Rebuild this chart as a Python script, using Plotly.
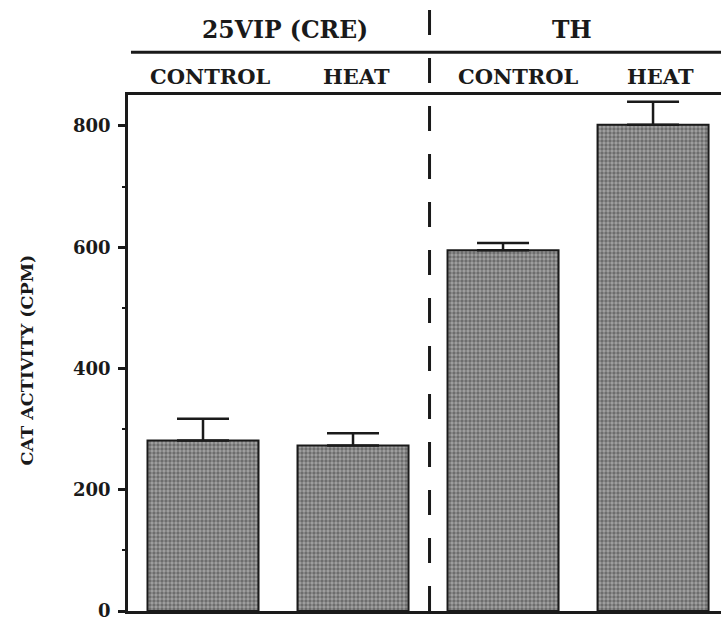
import plotly.graph_objects as go

conditions = ["CONTROL", "HEAT", "CONTROL", "HEAT"]
groups = ["25VIP (CRE)", "TH"]
activity = [281, 273, 595, 802]
error_up = [36, 20, 12, 38]
y_ticks = [0, 200, 400, 600, 800]
y_title = "CAT ACTIVITY (CPM)"

FONT = "DejaVu Serif"
INK = "#1a1a1a"
xs = list(range(len(activity)))

fig = go.Figure()
fig.add_trace(go.Bar(
    x=xs, y=activity, width=0.74,
    marker=dict(
        color="#777777",
        line=dict(color=INK, width=2),
        pattern=dict(shape=".", size=4, solidity=0.55, fgcolor="#383838", bgcolor="#a2a2a2"),
    ),
    error_y=dict(type="data", symmetric=False, array=error_up, arrayminus=[0]*4,
                 color=INK, thickness=2.5, width=26),
    showlegend=False,
))

fig.update_layout(
    width=721, height=621,
    margin=dict(l=128, r=0, t=95, b=8),
    paper_bgcolor="white", plot_bgcolor="white",
    font=dict(family=FONT, color=INK),
    xaxis=dict(range=[-0.5, 3.453], showticklabels=False, ticks="",
               showgrid=False, zeroline=False, showline=True, linecolor=INK,
               linewidth=3, mirror=True),
    yaxis=dict(range=[0, 851], tickvals=y_ticks, ticks="outside", ticklen=7, tickwidth=2.5,
               tickcolor=INK, showgrid=False, zeroline=False, showline=True,
               linecolor=INK, linewidth=2.5, ticklabeloverflow="allow", ticklabelstandoff=4,
               tickfont=dict(family=FONT, size=18, color=INK, weight="bold"),
               minor=dict(tickvals=[100, 300, 500, 700], ticks="outside", ticklen=3,
                          tickwidth=2, tickcolor=INK)),
)

# dashed separator between groups
fig.add_shape(type="line", xref="x", yref="paper", x0=1.51, x1=1.51, y0=0, y1=1.166,
              line=dict(color=INK, width=3, dash="25px,23px"))
# group underline
fig.add_shape(type="line", xref="paper", yref="paper", x0=0.005, x1=1, y0=1.083, y1=1.083,
              line=dict(color=INK, width=3))

group_centers = [0.547, 2.46]
for g, cx in zip(groups, group_centers):
    fig.add_annotation(x=cx, y=1.1255, xref="x", yref="paper", text=g, showarrow=False,
                       font=dict(family=FONT, size=23.5, color=INK, weight="bold"),
                       xanchor="center", yanchor="middle")

cond_pos = [0.053, 1.02, 2.1, 3.047]
for c, px in zip(conditions, cond_pos):
    fig.add_annotation(x=px, y=1.0367, xref="x", yref="paper", text=c, showarrow=False,
                       font=dict(family=FONT, size=21, color=INK, weight="bold"),
                       xanchor="center", yanchor="middle")

fig.add_annotation(x=-0.170, xref="paper", y=0.486, yref="paper", text=y_title, textangle=-90,
                   showarrow=False, font=dict(family=FONT, size=17.5, color=INK, weight="bold"),
                   xanchor="center", yanchor="middle")

fig.write_html("out.html")
